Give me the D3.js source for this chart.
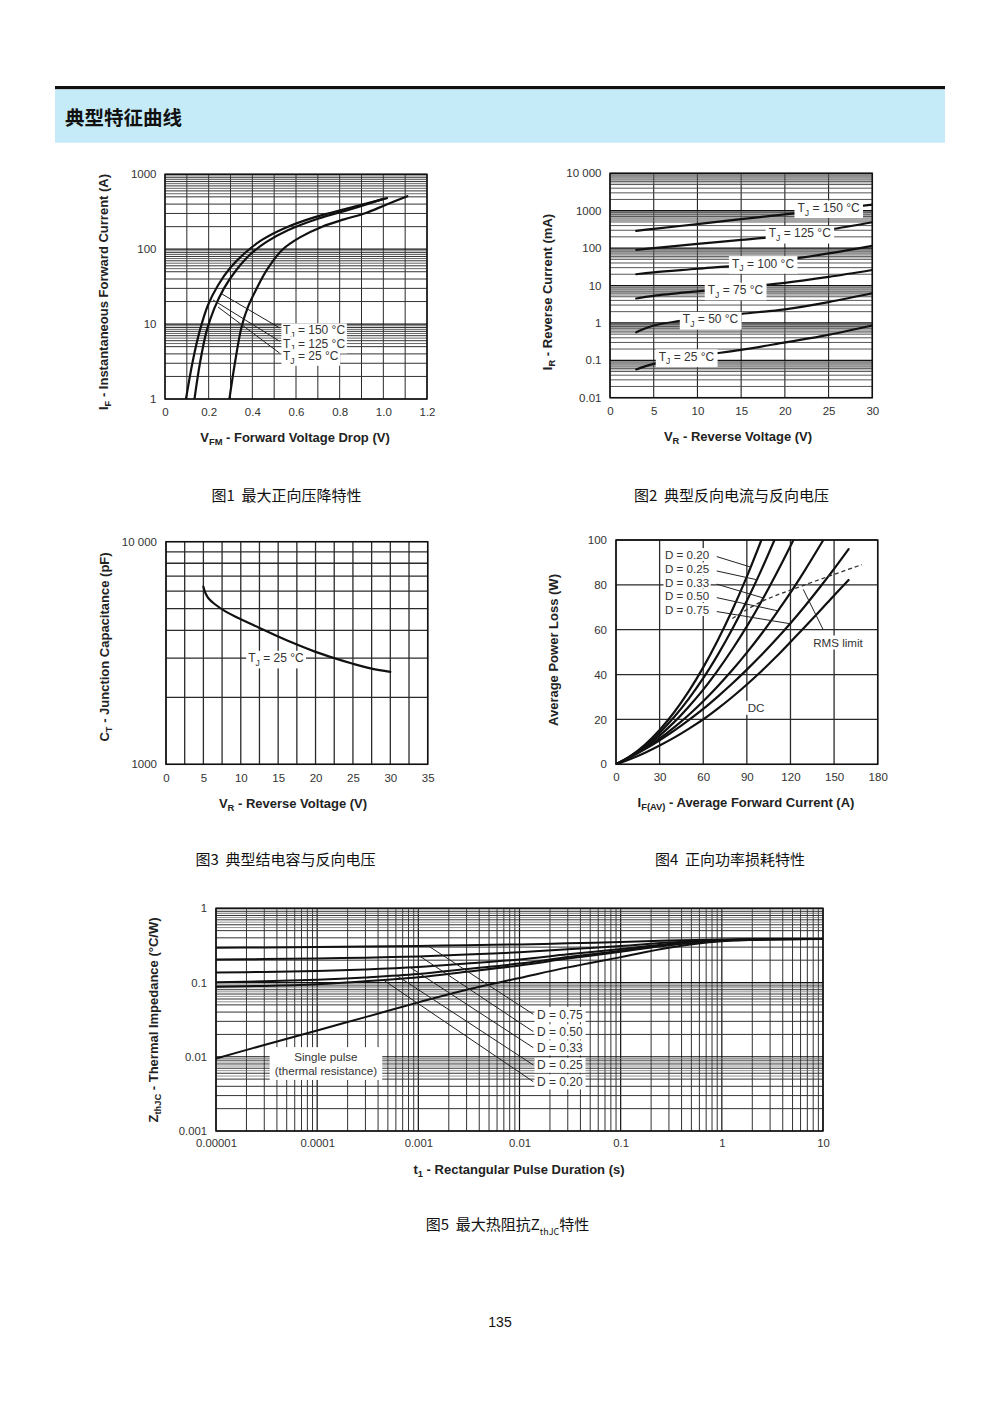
<!DOCTYPE html>
<html><head><meta charset="utf-8">
<script src="https://d3js.org/d3.v7.min.js"></script>
<style>
html,body{margin:0;padding:0;background:#fff;}
svg{display:block;}
</style></head>
<body>
<svg id="page" width="1000" height="1414" xmlns="http://www.w3.org/2000/svg"></svg>
<script>
// ======================= DATA =======================
// Fig.1  forward characteristics (V, A)
const fig1XTicks = [0, 0.2, 0.4, 0.6, 0.8, 1.0, 1.2];
const fig1XTickLabels = ['0', '0.2', '0.4', '0.6', '0.8', '1.0', '1.2'];
const fig1YTicks = [1, 10, 100, 1000];
const fig1YTickLabels = ['1', '10', '100', '1000'];
const fig1V150 = [0.096, 0.128, 0.16, 0.197, 0.243, 0.298, 0.366, 0.444, 0.55, 0.687, 0.847, 1.017];
const fig1I150 = [1, 3.3, 8.3, 18, 33, 56, 89, 133, 192, 268, 356, 480];
const fig1V125 = [0.135, 0.16, 0.19, 0.225, 0.27, 0.325, 0.39, 0.465, 0.565, 0.7, 0.855, 1.0];
const fig1I125 = [1, 3, 8, 16, 30, 52, 85, 125, 180, 255, 345, 470];
const fig1V25 = [0.295, 0.32, 0.35, 0.38, 0.42, 0.47, 0.54, 0.62, 0.72, 0.82, 0.92, 1.01, 1.11];
const fig1I25 = [1, 3, 9, 17, 30, 55, 100, 145, 200, 250, 305, 390, 510];
const fig1Temps = ['150', '125', '25'];

// Fig.2  reverse current (V, mA)
const fig2XTicks = [0, 5, 10, 15, 20, 25, 30];
const fig2XTickLabels = ['0', '5', '10', '15', '20', '25', '30'];
const fig2YTicks = [0.01, 0.1, 1, 10, 100, 1000, 10000];
const fig2YTickLabels = ['0.01', '0.1', '1', '10', '100', '1000', '10 000'];
const fig2V = [3, 5, 10, 15, 20, 25, 30];
const fig2I150 = [290, 327, 440, 593, 798, 1076, 1450];
const fig2I125 = [89, 100, 130, 165, 215, 310, 490];
const fig2I100 = [20, 22.5, 28, 35, 48, 72, 115];
const fig2I75 = [4.5, 5.3, 7, 9, 11.8, 17, 26];
const fig2I50 = [0.56, 0.85, 1.3, 1.75, 2.3, 3.6, 6.2];
const fig2I25 = [0.057, 0.08, 0.13, 0.19, 0.3, 0.48, 0.85];
const fig2Temps = ['150', '125', '100', '75', '50', '25'];

// Fig.3  junction capacitance (V, pF)
const fig3XTicks = [0, 5, 10, 15, 20, 25, 30, 35];
const fig3XTickLabels = ['0', '5', '10', '15', '20', '25', '30', '35'];
const fig3YTicks = [1000, 10000];
const fig3YTickLabels = ['1000', '10 000'];
const fig3V = [5, 5.3, 5.7, 6.5, 8, 10, 12.5, 15, 17.5, 20, 22.5, 25, 27.5, 30];
const fig3C = [6280, 5850, 5560, 5250, 4850, 4480, 4100, 3750, 3450, 3200, 3000, 2830, 2690, 2600];

// Fig.4  average power loss (A, W)
const fig4XTicks = [0, 30, 60, 90, 120, 150, 180];
const fig4XTickLabels = ['0', '30', '60', '90', '120', '150', '180'];
const fig4YTicks = [0, 20, 40, 60, 80, 100];
const fig4YTickLabels = ['0', '20', '40', '60', '80', '100'];
const fig4Duty = ['0.20', '0.25', '0.33', '0.50', '0.75'];
const fig4I_D020 = [0, 10, 20, 30, 40, 50, 60, 70, 80, 90, 100];
const fig4P_D020 = [0, 3.7, 8.8, 15.3, 23.2, 32.5, 43.2, 55.3, 68.8, 83.7, 100];
const fig4I_D025 = [0, 10, 20, 30, 40, 50, 60, 70, 80, 90, 100, 109];
const fig4P_D025 = [0, 3.57, 8.27, 14.1, 21.1, 29.2, 38.4, 48.8, 60.3, 72.9, 86.7, 100];
const fig4I_D033 = [0, 10, 20, 30, 40, 50, 60, 70, 80, 90, 100, 110, 120, 122];
const fig4P_D033 = [0, 3.43, 7.7, 12.8, 18.8, 25.7, 33.3, 41.9, 51.3, 61.5, 72.6, 84.6, 97.3, 100];
const fig4I_D050 = [0, 10, 20, 30, 40, 50, 60, 70, 80, 90, 100, 110, 120, 130, 140, 142.6];
const fig4P_D050 = [0, 3.28, 7.13, 11.5, 16.5, 22.0, 28.1, 34.8, 42.0, 49.8, 58.1, 67.1, 76.5, 86.6, 97.2, 100];
const fig4I_D075 = [0, 10, 20, 30, 40, 50, 60, 70, 80, 90, 100, 110, 120, 130, 140, 150, 160];
const fig4P_D075 = [0, 3.19, 6.75, 10.7, 15.0, 19.7, 24.7, 30.2, 36.0, 42.2, 48.7, 55.6, 62.9, 70.6, 78.7, 87.1, 95.9];
const fig4I_DC = [0, 10, 20, 30, 40, 50, 60, 70, 80, 90, 100, 110, 120, 130, 140, 150, 160];
const fig4P_DC = [0, 2.4, 5.2, 8.4, 11.9, 15.8, 20, 24.8, 30, 35.6, 41.5, 47.8, 54.5, 61.3, 68.2, 75.3, 82.2];
const fig4RmsI = [80, 100, 130, 169];
const fig4RmsP = [65, 72.5, 80, 89];

// Fig.5  transient thermal impedance (s, °C/W)
const fig5XTicks = [1e-5, 1e-4, 1e-3, 1e-2, 0.1, 1, 10];
const fig5XTickLabels = ['0.00001', '0.0001', '0.001', '0.01', '0.1', '1', '10'];
const fig5YTicks = [0.001, 0.01, 0.1, 1];
const fig5YTickLabels = ['0.001', '0.01', '0.1', '1'];
const fig5T = [1e-5, 3e-5, 1e-4, 3e-4, 1e-3, 3e-3, 1e-2, 3e-2, 0.1, 0.3, 1, 3, 10];
const fig5Z_D075 = [0.295, 0.297, 0.300, 0.305, 0.311, 0.318, 0.326, 0.338, 0.352, 0.368, 0.38, 0.385, 0.385];
const fig5Z_D050 = [0.205, 0.207, 0.211, 0.216, 0.225, 0.238, 0.256, 0.28, 0.31, 0.345, 0.375, 0.385, 0.385];
const fig5Z_D033 = [0.137, 0.139, 0.143, 0.150, 0.162, 0.18, 0.205, 0.24, 0.282, 0.33, 0.37, 0.383, 0.385];
const fig5Z_D025 = [0.101, 0.104, 0.109, 0.117, 0.13, 0.152, 0.18, 0.22, 0.268, 0.322, 0.368, 0.383, 0.385];
const fig5Z_D020 = [0.088, 0.090, 0.095, 0.104, 0.118, 0.14, 0.17, 0.21, 0.26, 0.318, 0.366, 0.383, 0.385];
const fig5Z_Single = [0.0095, 0.0144, 0.0226, 0.0342, 0.054, 0.08, 0.115, 0.16, 0.22, 0.295, 0.36, 0.38, 0.385];
const fig5Duty = ['0.75', '0.50', '0.33', '0.25', '0.20'];

// ======================= DRAWING =======================
const svg = d3.select('#page');
const defs = svg.append('defs');
const FONT = '"Liberation Sans", Arial, Helvetica, sans-serif';
const CJK = '"Noto Sans CJK SC", "Noto Sans", sans-serif';
const STD = [2, 3, 4, 5, 6, 7, 8, 9];
const DENSE = [2, 3, 4, 5, 5.5, 6, 6.5, 7, 7.5, 8, 8.5, 9, 9.5];

function logGrid(lo, hi, mults) {
  const out = [];
  for (let e = lo; e < hi; e++) {
    out.push(Math.pow(10, e));
    mults.forEach(m => out.push(m * Math.pow(10, e)));
  }
  out.push(Math.pow(10, hi));
  return out;
}
function mantissaKind(d) {
  const m = d / Math.pow(10, Math.floor(Math.log10(d) + 1e-9));
  if (Math.abs(m - 1) < 1e-6) return 'major';
  if (Math.abs(m - Math.round(m)) < 1e-6) return 'minor';
  return 'half';
}

function addText(parent, x, y, parts, o = {}) {
  const size = o.size || 12;
  const off = size * 0.35;
  const t = parent.append('text')
    .attr('x', x).attr('y', y + off)
    .attr('font-family', o.family || FONT)
    .attr('font-size', size)
    .attr('font-weight', o.weight || 'normal')
    .attr('fill', o.fill || '#222')
    .attr('text-anchor', o.anchor || 'start')
    .style('white-space', 'pre');
  if (o.rotate) t.attr('transform', `rotate(-90 ${x} ${y})`);
  let shifted = 0;
  parts.forEach(p => {
    const isSub = Array.isArray(p);
    const s = t.append('tspan').text(isSub ? p[0] : p);
    const target = isSub ? size * 0.3 : 0;
    if (target !== shifted) { s.attr('dy', target - shifted); shifted = target; }
    if (isSub) s.attr('font-size', size * (o.subScale || 0.72));
  });
  return t;
}

function boxedLabel(parent, x, y, parts, o = {}) {
  const grp = parent.append('g');
  const r = grp.append('rect').attr('fill', '#fff');
  const t = addText(grp, x, y, parts, o);
  const bb = t.node().getBBox();
  const px = o.padX != null ? o.padX : 3, py = o.padY != null ? o.padY : 0.5;
  r.attr('x', bb.x - px).attr('y', bb.y - py).attr('width', bb.width + 2 * px).attr('height', bb.height + 2 * py);
  return grp;
}

function chartFrame(id, x, y, xGrid, yGrid, vStyle, hStyle) {
  const g = svg.append('g');
  const [xa, xb] = x.range();
  const [yb, ya] = y.range();
  defs.append('clipPath').attr('id', id).append('rect')
    .attr('x', xa).attr('y', ya).attr('width', xb - xa).attr('height', yb - ya);
  const grid = g.append('g').attr('fill', 'none');
  grid.selectAll('line.v').data(xGrid).join('line').attr('class', 'v')
    .attr('x1', d => x(d)).attr('x2', d => x(d)).attr('y1', ya).attr('y2', yb)
    .attr('stroke', d => vStyle(d)[0]).attr('stroke-width', d => vStyle(d)[1]);
  grid.selectAll('line.h').data(yGrid).join('line').attr('class', 'h')
    .attr('x1', xa).attr('x2', xb).attr('y1', d => y(d)).attr('y2', d => y(d))
    .attr('stroke', d => hStyle(d)[0]).attr('stroke-width', d => hStyle(d)[1]);
  const plot = g.append('g').attr('clip-path', `url(#${id})`);
  g.append('rect').attr('x', xa).attr('y', ya).attr('width', xb - xa).attr('height', yb - ya)
    .attr('fill', 'none').attr('stroke', '#111').attr('stroke-width', 1.5);
  const over = g.append('g');
  return { g, plot, over, xa, xb, ya, yb };
}

function tickAxis(g, axisFn, scale, vals, labels, pos, pad, size) {
  const ax = axisFn(scale).tickValues(vals).tickFormat((d, i) => labels[i]).tickSize(0).tickPadding(pad);
  const a = g.append('g').attr('transform', pos).call(ax);
  a.select('.domain').remove();
  a.attr('font-family', FONT).attr('font-size', size).attr('color', '#333');
}

function curve(plot, line, data, w = 2.2) {
  plot.append('path').datum(data).attr('d', line)
    .attr('fill', 'none').attr('stroke', '#111').attr('stroke-width', w)
    .attr('stroke-linejoin', 'round').attr('stroke-linecap', 'round');
}

function leader(g, x1, y1, x2, y2, w = 1) {
  g.append('line').attr('x1', x1).attr('y1', y1).attr('x2', x2).attr('y2', y2)
    .attr('stroke', '#222').attr('stroke-width', w);
}

const smooth = d3.curveCatmullRom.alpha(0.5);

// ---------------- Header ----------------
svg.append('rect').attr('x', 55).attr('y', 86).attr('width', 890).attr('height', 3.4).attr('fill', '#111');
svg.append('rect').attr('x', 55).attr('y', 89.4).attr('width', 890).attr('height', 53.4).attr('fill', '#c5ebf8');
addText(svg, 65, 118.5, ['典型特征曲线'], { size: 19.5, weight: 'bold', family: CJK, fill: '#111' });

// ---------------- Fig.1 ----------------
{
  const x = d3.scaleLinear().domain([0, 1.2]).range([165, 427]);
  const y = d3.scaleLog().domain([1, 1000]).range([399, 174.3]);
  const hs = d => { const k = mantissaKind(d); return k === 'major' ? ['#111', 1.2] : k === 'minor' ? ['#333', 1] : ['#555', 0.9]; };
  const f = chartFrame('c1', x, y, d3.range(0, 13).map(v => v / 10), logGrid(0, 3, DENSE), () => ['#2a2a2a', 1], hs);
  tickAxis(f.g, d3.axisBottom, x, fig1XTicks, fig1XTickLabels, 'translate(0,399)', 8.4, 11.5);
  tickAxis(f.g, d3.axisLeft, y, fig1YTicks, fig1YTickLabels, 'translate(165,0)', 8.5, 11.5);
  const line = d3.line().x(d => x(d[0])).y(d => y(d[1])).curve(smooth);
  curve(f.plot, line, d3.zip(fig1V150, fig1I150));
  curve(f.plot, line, d3.zip(fig1V125, fig1I125));
  curve(f.plot, line, d3.zip(fig1V25, fig1I25));
  const from = [[0.261, 25.2], [0.22, 21], [0.243, 16.9]];
  const to = [[0.525, 8.9], [0.525, 5.9], [0.525, 4.1]];
  from.forEach((p, i) => leader(f.over, x(p[0]), y(p[1]), x(to[i][0]), y(to[i][1])));
  const ly = [8.3, 5.5, 3.75];
  fig1Temps.forEach((t, i) => boxedLabel(f.over, x(0.54), y(ly[i]), ['T', ['J'], ` = ${t} °C`], { size: 12, padX: 1.5, padY: 0, fill: '#333' }));
  addText(svg, 295, 437, ['V', ['FM'], ' - Forward Voltage Drop (V)'], { size: 13, weight: 'bold', anchor: 'middle' });
  addText(svg, 103, 292, ['I', ['F'], ' - Instantaneous Forward Current (A)'], { size: 13, weight: 'bold', anchor: 'middle', rotate: true });
  addText(svg, 286.5, 496, ['图1\u00a0\u00a0最大正向压降特性'], { size: 15, family: CJK, anchor: 'middle', fill: '#111' });
}

// ---------------- Fig.2 ----------------
{
  const x = d3.scaleLinear().domain([0, 30]).range([610, 872.3]);
  const y = d3.scaleLog().domain([0.01, 10000]).range([397.7, 173.3]);
  const hs = d => { const k = mantissaKind(d); return k === 'major' ? ['#111', 1.2] : k === 'minor' ? ['#444', 0.9] : ['#777', 0.75]; };
  const f = chartFrame('c2', x, y, d3.range(0, 31, 5), logGrid(-2, 4, DENSE), () => ['#222', 1.1], hs);
  tickAxis(f.g, d3.axisBottom, x, fig2XTicks, fig2XTickLabels, 'translate(0,397.7)', 8.9, 11.5);
  tickAxis(f.g, d3.axisLeft, y, fig2YTicks, fig2YTickLabels, 'translate(610,0)', 8.5, 11.5);
  const line = d3.line().x(d => x(d[0])).y(d => y(d[1])).curve(smooth);
  [fig2I150, fig2I125, fig2I100, fig2I75, fig2I50, fig2I25].forEach(s => curve(f.plot, line, d3.zip(fig2V, s)));
  const lp = [[25, 1200], [21.7, 249], [17.5, 39], [14.35, 7.6], [11.5, 1.25], [8.75, 0.125]];
  fig2Temps.forEach((t, i) => boxedLabel(f.over, x(lp[i][0]), y(lp[i][1]), ['T', ['J'], ` = ${t} °C`], { size: 12, anchor: 'middle', padX: 3, padY: 0.5, fill: '#333' }));
  addText(svg, 738, 436, ['V', ['R'], ' - Reverse Voltage (V)'], { size: 13, weight: 'bold', anchor: 'middle' });
  addText(svg, 547, 292, ['I', ['R'], ' - Reverse Current (mA)'], { size: 13, weight: 'bold', anchor: 'middle', rotate: true });
  addText(svg, 731.5, 496, ['图2\u00a0\u00a0典型反向电流与反向电压'], { size: 15, family: CJK, anchor: 'middle', fill: '#111' });
}

// ---------------- Fig.3 ----------------
{
  const x = d3.scaleLinear().domain([0, 35]).range([166, 427.7]);
  const y = d3.scaleLog().domain([1000, 10000]).range([764.3, 541.7]);
  const f = chartFrame('c3', x, y, d3.range(0, 36, 2.5), logGrid(3, 4, STD), () => ['#2a2a2a', 1.3], () => ['#2a2a2a', 1.3]);
  tickAxis(f.g, d3.axisBottom, x, fig3XTicks, fig3XTickLabels, 'translate(0,764.3)', 9.6, 11.5);
  tickAxis(f.g, d3.axisLeft, y, fig3YTicks, fig3YTickLabels, 'translate(166,0)', 9, 11.5);
  const line = d3.line().x(d => x(d[0])).y(d => y(d[1])).curve(smooth);
  curve(f.plot, line, d3.zip(fig3V, fig3C));
  boxedLabel(f.over, x(14.7), y(3000), ['T', ['J'], ' = 25 °C'], { size: 12, anchor: 'middle', padX: 2, padY: 0.5, fill: '#333' });
  addText(svg, 293, 803, ['V', ['R'], ' - Reverse Voltage (V)'], { size: 13, weight: 'bold', anchor: 'middle' });
  addText(svg, 104, 647, ['C', ['T'], ' - Junction Capacitance (pF)'], { size: 13, weight: 'bold', anchor: 'middle', rotate: true });
  addText(svg, 285.5, 860, ['图3\u00a0\u00a0典型结电容与反向电压'], { size: 15, family: CJK, anchor: 'middle', fill: '#111' });
}

// ---------------- Fig.4 ----------------
{
  const x = d3.scaleLinear().domain([0, 180]).range([616, 877.7]);
  const y = d3.scaleLinear().domain([0, 100]).range([764.3, 540]);
  const f = chartFrame('c4', x, y, fig4XTicks, fig4YTicks, () => ['#2a2a2a', 1.3], () => ['#2a2a2a', 1.3]);
  tickAxis(f.g, d3.axisBottom, x, fig4XTicks, fig4XTickLabels, 'translate(0,764.3)', 8.6, 11.5);
  tickAxis(f.g, d3.axisLeft, y, fig4YTicks, fig4YTickLabels, 'translate(616,0)', 9, 11.5);
  const line = d3.line().x(d => x(d[0])).y(d => y(d[1])).curve(smooth);
  const series = [[fig4I_D020, fig4P_D020], [fig4I_D025, fig4P_D025], [fig4I_D033, fig4P_D033],
                  [fig4I_D050, fig4P_D050], [fig4I_D075, fig4P_D075], [fig4I_DC, fig4P_DC]];
  series.forEach(([is, ps]) => curve(f.plot, line, d3.zip(is, ps)));
  f.plot.append('path').datum(d3.zip(fig4RmsI, fig4RmsP)).attr('d', line)
    .attr('fill', 'none').attr('stroke', '#333').attr('stroke-width', 1.3).attr('stroke-dasharray', '4,3');
  const rowW = [93.3, 86.9, 81.0, 75.0, 68.8];
  const endI = [92.6, 96.8, 101.3, 111.4, 119.7];
  fig4Duty.forEach((d, i) => {
    const interp = d3.scaleLinear().domain(series[i][0]).range(series[i][1]);
    leader(f.over, x(69.3), y(rowW[i] - 0.7), x(endI[i]), y(interp(endI[i])));
  });
  fig4Duty.forEach((d, i) => boxedLabel(f.over, x(33.7), y(rowW[i]), [`D = ${d}`], { size: 11.6, padX: 1.5, padY: 0, fill: '#333' }));
  leader(f.over, x(142.6), y(59.9), x(128.8), y(78));
  boxedLabel(f.over, x(152.7), y(54.1), ['RMS limit'], { size: 11.6, anchor: 'middle', padX: 2, padY: 0.5, fill: '#333' });
  boxedLabel(f.over, x(96.3), y(25.0), ['DC'], { size: 11.6, anchor: 'middle', padX: 2, padY: 0.5, fill: '#333' });
  addText(svg, 746, 802, ['I', ['F(AV)'], ' - Average Forward Current (A)'], { size: 13, weight: 'bold', anchor: 'middle' });
  addText(svg, 553, 650, ['Average Power Loss (W)'], { size: 13, weight: 'bold', anchor: 'middle', rotate: true });
  addText(svg, 730, 860, ['图4\u00a0\u00a0正向功率损耗特性'], { size: 15, family: CJK, anchor: 'middle', fill: '#111' });
}

// ---------------- Fig.5 ----------------
{
  const x = d3.scaleLog().domain([1e-5, 10]).range([216, 823]);
  const y = d3.scaleLog().domain([0.001, 1]).range([1131, 908.3]);
  const vs = d => mantissaKind(d) === 'major' ? ['#111', 1.2] : ['#333', 1];
  const hs = d => { const k = mantissaKind(d); return k === 'major' ? ['#111', 1.2] : k === 'minor' ? ['#333', 1] : ['#777', 0.8]; };
  const f = chartFrame('c5', x, y, logGrid(-5, 1, STD), logGrid(-3, 0, DENSE), vs, hs);
  tickAxis(f.g, d3.axisBottom, x, fig5XTicks, fig5XTickLabels, 'translate(0,1131)', 8.4, 11.3);
  tickAxis(f.g, d3.axisLeft, y, fig5YTicks, fig5YTickLabels, 'translate(216,0)', 9, 11.3);
  const line = d3.line().x(d => x(d[0])).y(d => y(d[1])).curve(smooth);
  const series = [fig5Z_D075, fig5Z_D050, fig5Z_D033, fig5Z_D025, fig5Z_D020];
  series.forEach(s => curve(f.plot, line, d3.zip(fig5T, s), 2));
  curve(f.plot, line, d3.zip(fig5T, fig5Z_Single), 2);
  const startT = [0.00125, 0.00104, 0.00083, 0.00061, 0.00045];
  const endZ = [0.0373, 0.0218, 0.01325, 0.00774, 0.00461];
  fig5Duty.forEach((d, i) => {
    const py = d3.scaleLog().domain(fig5T).range(series[i].map(v => y(v)));
    leader(f.over, x(startT[i]), py(startT[i]), x(0.0137), y(endZ[i]));
  });
  fig5Duty.forEach((d, i) => boxedLabel(f.over, x(0.0149), y(endZ[i]), [`D = ${d}`], { size: 12, padX: 2.5, padY: 0.5, fill: '#333' }));
  const sp = f.over.append('g');
  const r = sp.append('rect').attr('fill', '#fff');
  const t1 = addText(sp, x(0.000122), y(0.0099), ['Single pulse'], { size: 11.6, anchor: 'middle', fill: '#333' });
  const t2 = addText(sp, x(0.000122), y(0.00645), ['(thermal resistance)'], { size: 11.6, anchor: 'middle', fill: '#333' });
  const b1 = t1.node().getBBox(), b2 = t2.node().getBBox();
  const bx0 = Math.min(b1.x, b2.x) - 5, bx1 = Math.max(b1.x + b1.width, b2.x + b2.width) + 5;
  r.attr('x', bx0).attr('y', b1.y - 3).attr('width', bx1 - bx0).attr('height', b2.y + b2.height - b1.y + 6);
  addText(svg, 519, 1169, ['t', ['1'], ' - Rectangular Pulse Duration (s)'], { size: 13, weight: 'bold', anchor: 'middle' });
  addText(svg, 153, 1020, ['Z', ['thJC'], ' - Thermal Impedance (°C/W)'], { size: 13, weight: 'bold', anchor: 'middle', rotate: true });
  addText(svg, 507.5, 1225, ['图5\u00a0\u00a0最大热阻抗Z', ['thJC'], '特性'], { size: 15, family: CJK, anchor: 'middle', fill: '#111', subScale: 0.6 });
}

// page number
addText(svg, 500, 1322, ['135'], { size: 14, anchor: 'middle', fill: '#111' });
</script>
</body></html>
